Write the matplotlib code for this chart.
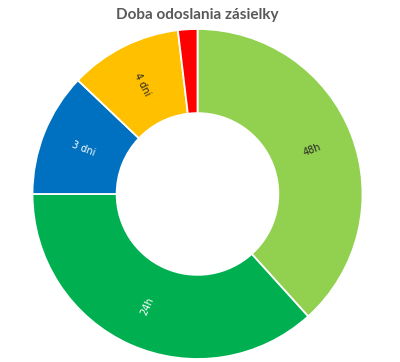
import numpy as np
import matplotlib
matplotlib.use("Agg")
import matplotlib.pyplot as plt

# podiel zasielok podla doby odoslania (%)
labels = ["48h", "24h", "3 dni", "4 dni", ""]
values = [38.3, 36.7, 12.1, 11.0, 1.9]
colors = ["#92D050", "#00B050", "#0070C0", "#FFC000", "#FF0000"]
text_colors = ["#262626", "white", "white", "#262626", "white"]

fig = plt.figure(figsize=(4.0, 3.62), dpi=100)
ax = fig.add_axes([0.08125, 0.0083, 0.825, 0.9116])

wedges, _ = ax.pie(values, colors=colors, startangle=90, counterclock=False,
                   radius=1.0,
                   wedgeprops=dict(width=0.51, edgecolor="white", linewidth=1.3))
ax.set_xlim(-1, 1)
ax.set_ylim(-1, 1)
ax.axis("off")

# popisky v strede prstenca, otocene radialne
r_lab = 1.0 - 0.51 / 2
for w, lab, tc in zip(wedges, labels, text_colors):
    if not lab:
        continue
    theta = (w.theta1 + w.theta2) / 2 % 360
    x = r_lab * np.cos(np.radians(theta))
    y = r_lab * np.sin(np.radians(theta))
    rot = theta
    if 90 < theta < 270:
        rot = theta - 180
    ax.text(x, y, lab, ha="center", va="center", rotation=rot,
            rotation_mode="anchor", fontsize=7, color=tc)

fig.text(0.494, 1 - 15 / 362, "Doba odoslania zásielky", ha="center", va="center",
         fontsize=11, fontweight="bold", color="#595959", family="Lato")

fig.savefig("out.png", dpi=100)
